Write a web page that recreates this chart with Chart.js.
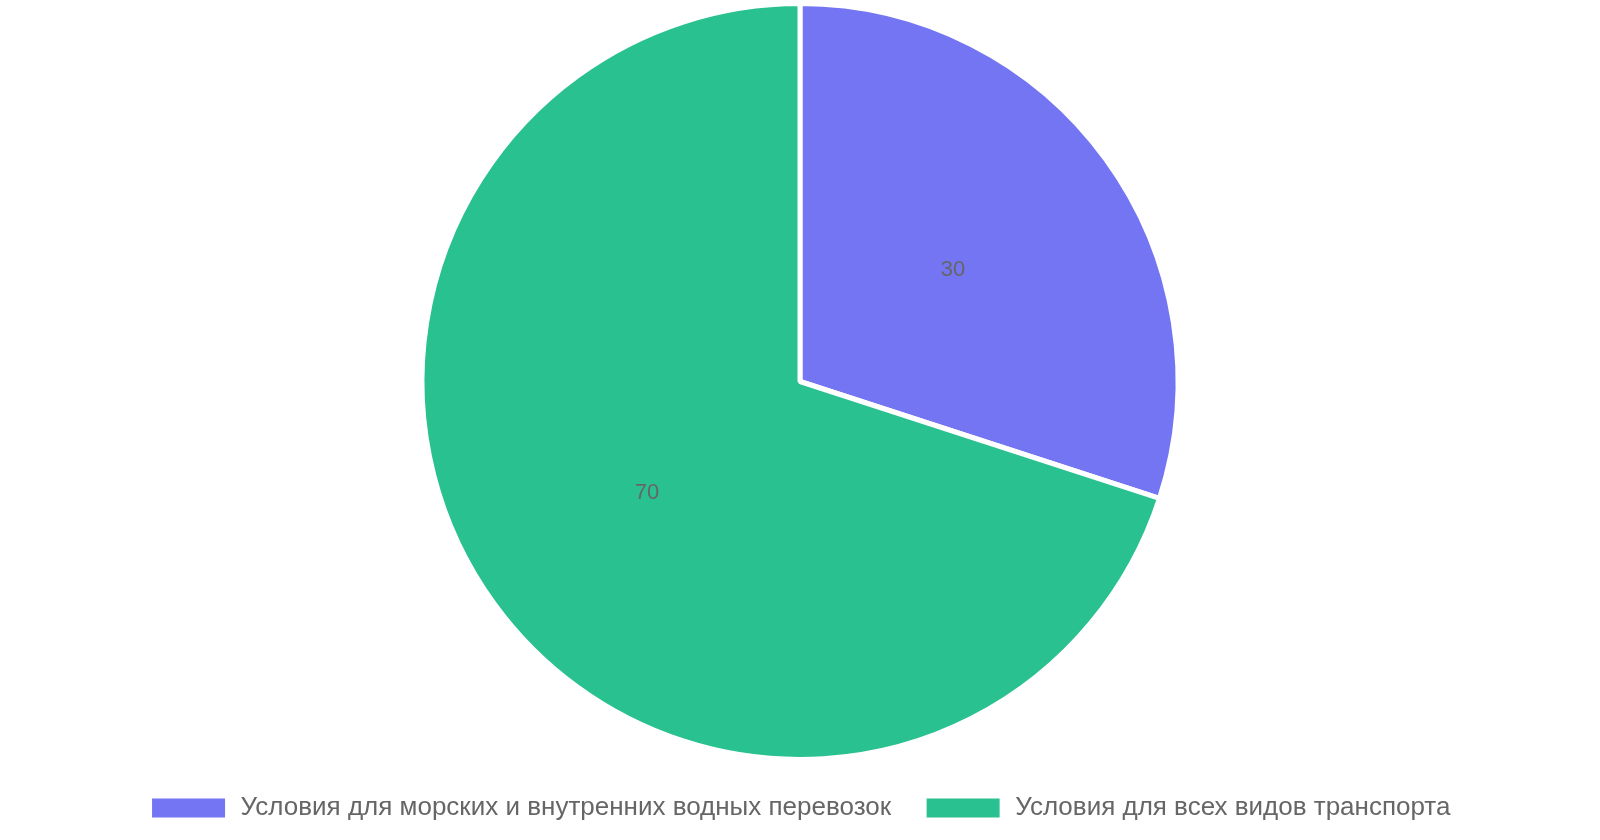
<!DOCTYPE html>
<html lang="ru">
<head>
    <meta charset="UTF-8">
    <title>Условия поставки</title>
    <script src="https://cdn.jsdelivr.net/npm/chart.js"></script>
    <style>
        body {
            margin: 0;
            background: #fff;
        }
        #wrap {
            width: 1600px;
            height: 831px;
        }
    </style>
</head>
<body>
    <div id="wrap"><canvas id="pieChart"></canvas></div>

    <script>
        const labels = [
            'Условия для морских и внутренних водных перевозок',
            'Условия для всех видов транспорта'
        ];
        const values = [30, 70];
        const colors = ['#7375F2', '#29C190'];

        // draws the value in the middle of each slice
        const sliceLabels = {
            id: 'sliceLabels',
            afterDatasetsDraw(chart) {
                const ctx = chart.ctx;
                const meta = chart.getDatasetMeta(0);
                ctx.save();
                ctx.font = '22px "Liberation Sans", Arial, sans-serif';
                ctx.fillStyle = '#666';
                ctx.textAlign = 'center';
                ctx.textBaseline = 'middle';
                meta.data.forEach((arc, i) => {
                    const pos = arc.tooltipPosition();
                    ctx.fillText(values[i], pos.x, pos.y);
                });
                ctx.restore();
            }
        };

        const ctx = document.getElementById('pieChart').getContext('2d');
        new Chart(ctx, {
            type: 'pie',
            data: {
                labels: labels,
                datasets: [{
                    data: values,
                    backgroundColor: colors,
                    borderColor: '#fff',
                    borderWidth: 5
                }]
            },
            options: {
                responsive: true,
                maintainAspectRatio: false,
                animation: false,
                layout: { padding: { top: 1 } },
                plugins: {
                    tooltip: { enabled: false },
                    legend: {
                        position: 'bottom',
                        labels: {
                            boxWidth: 78,
                            boxHeight: 24,
                            padding: 33,
                            color: '#666',
                            font: { size: 26, family: '"Liberation Sans", Arial, sans-serif' }
                        }
                    }
                }
            },
            plugins: [sliceLabels]
        });
    </script>
</body>
</html>
